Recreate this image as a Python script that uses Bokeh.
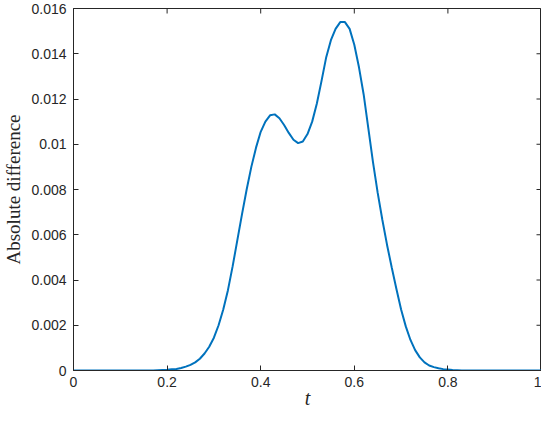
import math
from bokeh.plotting import figure
from bokeh.models import Range1d, FixedTicker
from bokeh.embed import file_html
from bokeh.resources import INLINE

t = [0.00, 0.05, 0.10, 0.15, 0.17, 0.18, 0.19, 0.20, 0.21, 0.22, 0.23, 0.24, 0.25,
     0.26, 0.27, 0.28, 0.29, 0.30, 0.31, 0.32, 0.33, 0.34, 0.35, 0.36, 0.37,
     0.38, 0.39, 0.40, 0.41, 0.42, 0.43, 0.44, 0.45, 0.46, 0.47, 0.48, 0.49,
     0.50, 0.51, 0.52, 0.53, 0.54, 0.55, 0.56, 0.57, 0.58, 0.59, 0.60, 0.61,
     0.62, 0.63, 0.64, 0.65, 0.66, 0.67, 0.68, 0.69, 0.70, 0.71, 0.72, 0.73,
     0.74, 0.75, 0.76, 0.77, 0.78, 0.79, 0.80, 0.81, 0.82, 0.83, 0.85, 0.90,
     0.95, 1.00]
abs_diff = [0.0, 0.0, 0.0, 0.0, 0.0, 0.00001, 0.00002, 0.00003, 0.00005, 0.00007,
            0.00011, 0.00017, 0.00025, 0.00036, 0.00052, 0.00075, 0.00105,
            0.00145, 0.00200, 0.00270, 0.00355, 0.00460, 0.00575, 0.00690,
            0.00800, 0.00900, 0.00985, 0.01055, 0.01100, 0.01128, 0.01132,
            0.01115, 0.01085, 0.01050, 0.01020, 0.01005, 0.01012, 0.01045,
            0.01100, 0.01180, 0.01280, 0.01385, 0.01460, 0.01510, 0.01540,
            0.01540, 0.01510, 0.01440, 0.01340, 0.01220, 0.01070, 0.00920,
            0.00785, 0.00665, 0.00555, 0.00455, 0.00360, 0.00270, 0.00195,
            0.00135, 0.00090, 0.00058, 0.00036, 0.00022, 0.00015, 0.00010,
            0.00006, 0.00004, 0.00002, 0.00001, 0.0, 0.0, 0.0, 0.0, 0.0]

x_ticks = [0, 0.2, 0.4, 0.6, 0.8, 1]
x_tick_labels = ["0", "0.2", "0.4", "0.6", "0.8", "1"]
y_ticks = [0, 0.002, 0.004, 0.006, 0.008, 0.01, 0.012, 0.014, 0.016]
y_tick_labels = ["0", "0.002", "0.004", "0.006", "0.008", "0.01", "0.012", "0.014", "0.016"]

X_MIN, X_MAX = 0, 1
Y_MIN, Y_MAX = 0, 0.016
AX = "#262626"

p = figure(frame_width=468, frame_height=362,
           x_range=Range1d(X_MIN, X_MAX), y_range=Range1d(Y_MIN, Y_MAX),
           output_backend="svg", toolbar_location=None,
           min_border_left=64, min_border_right=0, min_border_top=8, min_border_bottom=42)
p.xgrid.visible = False
p.ygrid.visible = False
p.outline_line_color = AX
p.outline_line_width = 1
p.background_fill_color = "white"
p.border_fill_color = "white"

p.line(t, abs_diff, line_color="#0072BD", line_width=2)

# inward ticks on the top and right edges (MATLAB box style)
p.ray(x=x_ticks, y=[Y_MAX] * len(x_ticks), length=5, length_units="screen",
      angle=-math.pi / 2, line_color=AX, line_width=1)
p.ray(x=[X_MAX] * len(y_ticks), y=y_ticks, length=5, length_units="screen",
      angle=math.pi, line_color=AX, line_width=1)

def style(ax, ticks, labels):
    ax.ticker = FixedTicker(ticks=ticks)
    ax.major_label_overrides = {v: s for v, s in zip(ticks, labels)}
    ax.major_tick_in = 5
    ax.major_tick_out = 0
    ax.minor_tick_in = 0
    ax.minor_tick_out = 0
    ax.axis_line_color = AX
    ax.major_tick_line_color = AX
    ax.major_label_text_color = AX
    ax.major_label_text_font = "Liberation Sans"
    ax.major_label_text_font_size = "14px"

style(p.xaxis[0], x_ticks, x_tick_labels)
style(p.yaxis[0], y_ticks, y_tick_labels)
p.xaxis[0].major_label_standoff = 6
p.yaxis[0].major_label_standoff = 7

p.xaxis[0].axis_label = "t"
p.xaxis[0].axis_label_text_font = "Liberation Serif"
p.xaxis[0].axis_label_text_font_style = "italic"
p.xaxis[0].axis_label_text_font_size = "20px"
p.xaxis[0].axis_label_text_color = AX
p.xaxis[0].axis_label_standoff = -3

p.yaxis[0].axis_label = "Absolute difference"
p.yaxis[0].axis_label_text_font = "Liberation Serif"
p.yaxis[0].axis_label_text_font_style = "normal"
p.yaxis[0].axis_label_text_font_size = "19px"
p.yaxis[0].axis_label_text_color = AX
p.yaxis[0].axis_label_standoff = 4

open("out.html", "w").write(file_html(p, INLINE))
